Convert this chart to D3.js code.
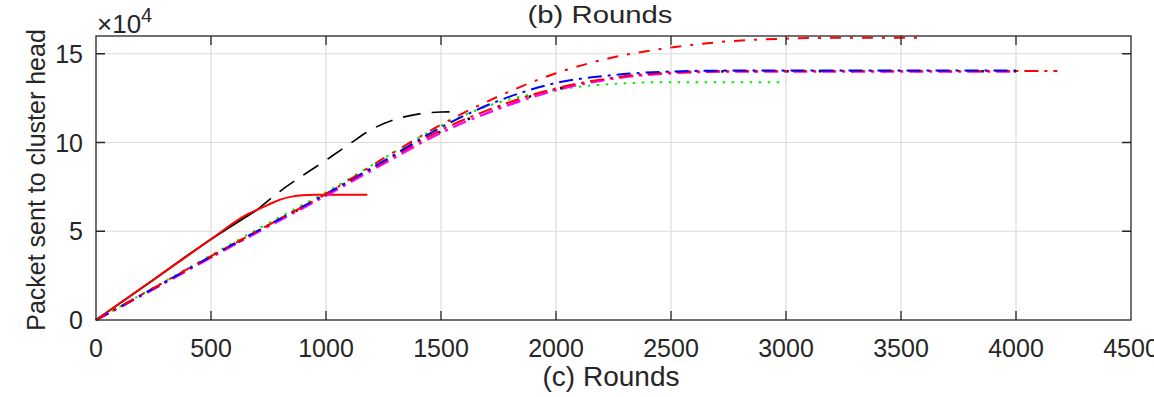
<!DOCTYPE html>
<html>
<head>
<meta charset="utf-8">
<script src="https://cdn.jsdelivr.net/npm/d3@7"></script>
<style>
body{margin:0;background:#fff;}
text{font-family:"Liberation Sans",Arial,sans-serif;fill:#262626;}
</style>
</head>
<body>
<div id="chart"></div>
<script>

// x ticks / y ticks
const xTicks = [0,500,1000,1500,2000,2500,3000,3500,4000,4500]
const yTicks = [0,50000,100000,150000]

// black dashed (solid under the red until ~700 rounds)
const blackRounds = [0,250,500,700,800,900,1000,1100,1200,1300,1400,1500,1570]
const blackValues = [0,22700,45500,62000,72500,81500,90000,99000,107500,113000,116000,117200,117300]

// red solid
const redSolidRounds = [0,250,500,650,700,750,800,850,900,950,1000,1180]
const redSolidValues = [0,22700,45500,59000,62000,65000,67800,69500,70300,70500,70500,70500]

// dash-dot group
const groupRounds = [0,250,500,750,1000,1250,1500,1750,2000,2250,2500,2750,3000,3250,3500,3750,4000,4180]

const redHighValues = [0,18000,36000,53500,71000,91000,110000,126000,139000,148000,153500,157000,158500,159000,159000]
const redHighRounds = [0,250,500,750,1000,1250,1500,1750,2000,2250,2500,2750,3000,3250,3600]

const blueValues = [0,17800,35800,53500,71000,89500,108500,123500,133500,138000,140000,140500,140500,140500,140500,140500,140500]
const redLowValues = [0,17800,35800,53500,71000,89000,107000,120500,130500,136500,139500,140200,140300,140300,140300,140300,140300,140300]
const magentaValues = [0,17400,35200,52800,70000,88000,105500,119000,129500,136000,139000,140000,140000,140000,140000,140000,140000]
const blackDotValues = [0,17600,35500,53200,70500,88500,106200,120000,130000,136200,139200,140100,140200,140200,140200,140200,140200]
const greenValues = [0,18200,36500,54500,72000,91000,109500,122500,129700,133000,134000,134000,134000]

const width = 1154
const height = 397
const margin = {left:96, right:23, top:36, bottom:77}

const svg = d3.select("#chart")
.append("svg")
.attr("width",width)
.attr("height",height)

const x = d3.scaleLinear().domain([0,4500]).range([margin.left,width-margin.right])
const y = d3.scaleLinear().domain([0,160000]).range([height-margin.bottom,margin.top])

// grid
svg.append("g")
.selectAll("line")
.data(xTicks.slice(1,-1))
.enter()
.append("line")
.attr("x1",d=>x(d)).attr("x2",d=>x(d))
.attr("y1",y(0)).attr("y2",y(160000))
.attr("stroke","#dcdcdc").attr("stroke-width",1.2)

svg.append("g")
.selectAll("line")
.data(yTicks.slice(1))
.enter()
.append("line")
.attr("x1",x(0)).attr("x2",x(4500))
.attr("y1",d=>y(d)).attr("y2",d=>y(d))
.attr("stroke","#dcdcdc").attr("stroke-width",1.2)

const line = d3.line()
.x(d=>x(d[0]))
.y(d=>y(d[1]))
.curve(d3.curveMonotoneX)

function pairs(r,v){ return r.slice(0,v.length).map((d,i)=>[d,v[i]]) }

function drawLine(data,color,dash,w){
svg.append("path")
.datum(data)
.attr("d",line)
.attr("fill","none")
.attr("stroke",color)
.attr("stroke-width",w||2)
.attr("stroke-dasharray",dash)
}

const blackAll = pairs(blackRounds,blackValues)
drawLine(blackAll.filter(d=>d[0]<=700),"#000",null,2)
drawLine(blackAll.filter(d=>d[0]>=700),"#000","18,11",1.6)

drawLine(pairs(redSolidRounds,redSolidValues),"#ff0000",null,2)

drawLine(pairs(groupRounds,greenValues),"#00ee00","2.5,6.5",2)
drawLine(pairs(groupRounds,blackDotValues),"#000","2.5,30",2.5)
drawLine(pairs(groupRounds,magentaValues),"#ff00ff","14,6,3,6",2.4)
drawLine(pairs(groupRounds,redLowValues),"#ff0000","14,6,3,6",2)
drawLine(pairs(groupRounds,blueValues),"#0000ff","14,6,3,6",2)
drawLine(pairs(redHighRounds,redHighValues),"#ff0000","11,9,3,9",2)

// axes box
svg.append("rect")
.attr("x",x(0)).attr("y",y(160000))
.attr("width",x(4500)-x(0)).attr("height",y(0)-y(160000))
.attr("fill","none").attr("stroke","#262626").attr("stroke-width",1.3)

// inward ticks
const tk = 9
svg.append("g").selectAll("path")
.data(xTicks.slice(1,-1))
.enter()
.append("path")
.attr("d",d=>`M${x(d)},${y(0)}v${-tk}M${x(d)},${y(160000)}v${tk}`)
.attr("stroke","#262626").attr("stroke-width",1.3)

svg.append("g").selectAll("path")
.data(yTicks.slice(1))
.enter()
.append("path")
.attr("d",d=>`M${x(0)},${y(d)}h${tk}M${x(4500)},${y(d)}h${-tk}`)
.attr("stroke","#262626").attr("stroke-width",1.3)

// tick labels
svg.append("g").selectAll("text")
.data(xTicks)
.enter()
.append("text")
.attr("x",d=>x(d))
.attr("y",357)
.attr("text-anchor","middle")
.attr("font-size","25px")
.text(d=>d)

svg.append("g").selectAll("text")
.data(yTicks)
.enter()
.append("text")
.attr("x",83)
.attr("y",d=>y(d)+9)
.attr("text-anchor","end")
.attr("font-size","25px")
.text(d=>d/10000)

// exponent
const ex = svg.append("text").attr("x",97).attr("y",33).attr("font-size","26px")
ex.append("tspan").text("\u00d710")
ex.append("tspan").attr("font-size","20px").attr("dy",-11).text("4")

// labels
svg.append("text")
.attr("x",611).attr("y",386)
.attr("text-anchor","middle")
.attr("font-size","28px")
.text("(c) Rounds")

svg.append("text")
.attr("x",600).attr("y",23)
.attr("text-anchor","middle")
.attr("font-size","23px")
.attr("textLength",145)
.attr("lengthAdjust","spacingAndGlyphs")
.text("(b) Rounds")

svg.append("text")
.attr("transform","translate(45,180) rotate(-90)")
.attr("text-anchor","middle")
.attr("font-size","25px")
.text("Packet sent to cluster head")

</script>
</body>
</html>
